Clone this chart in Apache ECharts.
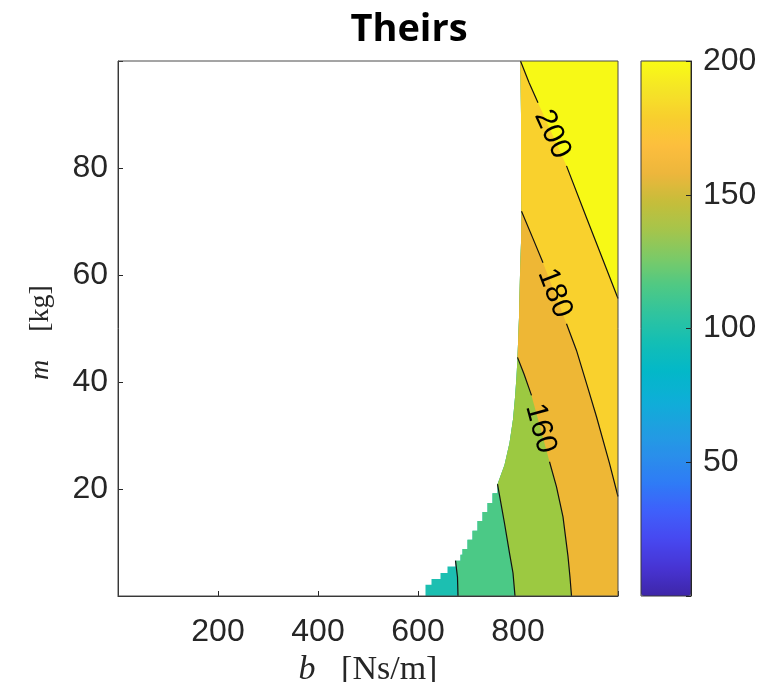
<!DOCTYPE html>
<html><head><meta charset="utf-8">
<script src="https://cdn.jsdelivr.net/npm/echarts@6.0.0/dist/echarts.min.js"></script>
<style>html,body{margin:0;padding:0;background:#fff}#c{width:763px;height:682px}</style>
</head><body><div id="c"></div>
<script>
// ---- data ----
const bRange = [0, 1000];          // b [Ns/m]
const mRange = [0, 100];           // m [kg]
const bTicks = [200, 400, 600, 800];
const mTicks = [20, 40, 60, 80];
const cbarRange = [0, 200];
const cbarTicks = [50, 100, 150, 200];
const levels = [100, 120, 140, 160, 180, 200];
const labelledLevels = [160, 180, 200];

// left edge of the defined (non-NaN) region, bottom -> top (staircase at the bottom)
const boundary = [
  [615, 0], [615, 2.1], [627, 2.1], [627, 3.2], [645, 3.2], [645, 4.3], [659, 4.3], [659, 5.5],
  [675, 5.5], [675, 6.6], [685, 6.6], [685, 7.7], [689, 7.7], [689, 8.8], [699, 8.8], [699, 10.5],
  [709, 10.5], [709, 12.2], [719, 12.2], [719, 14.0], [729, 14.0], [729, 15.7], [739, 15.7], [739, 17.4],
  [749, 17.4], [749, 19.2], [759, 19.2], [759, 20.9],
  [773, 24.5], [783, 28.6], [790, 33], [794, 37.1], [797, 41], [799, 44.6],
  [802, 52], [804, 60], [806, 66], [807, 71.9], [806, 80], [806, 90], [805, 100]
];

// contour lines (null = gap where the label sits)
const contour120 = [[680, 0], [679, 3.5], [675, 6.6]];
const contour140 = [[794, 0], [790, 4.3], [783, 8.0], [773, 13.6], [759, 20.9]];
const contour160 = [[907, 0], [904, 3.5], [900, 7.4], [890, 14.8], [877, 20.4], [863, 25.1], null, [827, 37.5], [812, 41.5], [799, 44.6]];
const contour180 = [[807, 71.9], [830, 66.8], [850, 62.3], null, [897, 50.9], [917, 45.9], [940, 38.8], [957, 33.5], [983, 24.8], [1000, 18.6]];
const contour200 = [[805, 100], [822, 96], [840, 92.2], null, [897, 80.4], [937, 70.7], [963, 64.5], [1000, 55.6]];

// ---- styles ----
const fillColors = ['#1cbfb1', '#4bc986', '#9cc941', '#eeb735', '#f9d12d', '#f7f916'];
const parula = ['#3E26A8', '#4734D3', '#4748F0', '#3F5FFB', '#2F7BF6', '#2A8FEA', '#1EA0E0', '#0DAFD6', '#03B8C8', '#13BEB5', '#2FC49F', '#4EC985', '#7BCA67', '#A5C54B', '#C6BD3A', '#EDB63C', '#FDBE3D', '#F8CF2E', '#F5E526', '#F9FB15'];
const txt = '#262626';
const tickFont = 'Liberation Sans';
const tickSize = 32;
const serif = 'Liberation Serif';

const contourList = [null, contour120, contour140, contour160, contour180, contour200];

function nearestIndex(pt) {
  let best = 0, bd = Infinity;
  boundary.forEach((p, i) => {
    const d = (p[0] - pt[0]) ** 2 + ((p[1] - pt[1]) * 10) ** 2;
    if (d < bd) { bd = d; best = i; }
  });
  return best;
}
// superlevel polygons (painted low -> high)
function regionPolygon(i) {
  const c = contourList[i];
  const xMax = bRange[1], yMax = mRange[1], yMin = mRange[0];
  if (!c) return boundary.concat([[xMax, yMax], [xMax, yMin]]);
  const pts = c.filter(p => p);
  const first = pts[0], last = pts[pts.length - 1];
  if (first[1] === yMin) {
    return pts.concat(boundary.slice(nearestIndex(last) + 1), [[xMax, yMax], [xMax, yMin]]);
  }
  return pts.concat([[xMax, yMax]], boundary.slice(nearestIndex(first) + 1).reverse());
}
const polygons = levels.map((l, i) => regionPolygon(i));

const chart = echarts.init(document.getElementById('c'), null, {renderer: 'canvas'});

const nameStyle = (size, pad) => ({
  color: txt, fontFamily: serif, fontSize: size, padding: pad,
  rich: {it: {fontStyle: 'italic', fontFamily: serif, fontSize: size, color: txt},
         n: {fontFamily: serif, fontSize: size, color: txt}}
});

const option = {
  animation: false,
  backgroundColor: '#fff',
  title: {
    text: 'Theirs', left: 404, top: 6, textAlign: 'center',
    textStyle: {fontFamily: 'Open Sans', fontWeight: 'bold', fontSize: 38, color: '#000'}
  },
  grid: [
    {left: 118, top: 61, width: 500, height: 535, show: true, borderColor: '#4a4a4a', borderWidth: 1, z: 10, outerBoundsMode: 'none', containLabel: false},
    {left: 641, top: 61, width: 50, height: 535, show: true, borderColor: '#3a3a3a', borderWidth: 1, z: 10, outerBoundsMode: 'none', containLabel: false}
  ],
  visualMap: {
    type: 'continuous', min: cbarRange[0], max: cbarRange[1], left: 641, top: 61,
    itemWidth: 50, itemHeight: 535, padding: 0, calculable: false, hoverLink: false,
    text: null, showLabel: false, seriesIndex: [], inRange: {color: parula}
  },
  xAxis: [
    {
      gridIndex: 0, type: 'value', min: bRange[0], max: bRange[1], interval: 200,
      axisLine: {show: true, onZero: false, lineStyle: {color: txt}},
      axisTick: {show: true, inside: true, length: 5, lineStyle: {color: txt}},
      axisLabel: {formatter: v => bTicks.includes(v) ? String(v) : '', fontSize: tickSize, fontFamily: tickFont, color: txt, margin: 20},
      splitLine: {show: false},
      name: '{it|b}   {n|[Ns/m]}', nameLocation: 'middle', nameGap: 38,
      nameTextStyle: nameStyle(34, 0)
    },
    {gridIndex: 1, type: 'value', min: 0, max: 1, show: false}
  ],
  yAxis: [
    {
      gridIndex: 0, type: 'value', min: mRange[0], max: mRange[1], interval: 20,
      axisLine: {show: true, onZero: false, lineStyle: {color: txt}},
      axisTick: {show: true, inside: true, length: 5, lineStyle: {color: txt}},
      axisLabel: {formatter: v => mTicks.includes(v) ? String(v) : '', fontSize: tickSize, fontFamily: tickFont, color: txt, margin: 10},
      splitLine: {show: false},
      name: '{it|m}    {n|[kg]}', nameLocation: 'middle', nameGap: 63,
      nameTextStyle: nameStyle(28, [0, 8, 0, 0])
    },
    {
      gridIndex: 1, type: 'value', min: cbarRange[0], max: cbarRange[1], interval: 50, position: 'right', z: 10,
      axisLine: {show: true, onZero: false, lineStyle: {color: txt}},
      axisTick: {show: true, inside: true, length: 5, lineStyle: {color: txt}},
      axisLabel: {formatter: v => cbarTicks.includes(v) ? String(v) : '', fontSize: tickSize, fontFamily: tickFont, color: txt, margin: 12},
      splitLine: {show: false}
    }
  ],
  series: [
    {
      type: 'custom', name: 'fills', xAxisIndex: 0, yAxisIndex: 0, silent: true, z: 2,
      data: levels.map((l, i) => [i, l]),
      renderItem: (params, api) => {
        const poly = polygons[params.dataIndex];
        return {
          type: 'polygon',
          shape: {points: poly.map(p => api.coord(p))},
          style: {fill: fillColors[params.dataIndex], stroke: null}
        };
      }
    },
    {
      type: 'custom', name: 'lines', xAxisIndex: 0, yAxisIndex: 0, silent: true, z: 3,
      data: levels.map((l, i) => [i, l]).slice(1),
      renderItem: (params, api) => {
        const idx = params.dataIndex + 1;
        const c = contourList[idx];
        const children = [];
        let seg = [];
        let gapPrev = null, gapNext = null;
        const flush = () => {
          if (seg.length > 1) children.push({type: 'polyline', shape: {points: seg}, style: {stroke: '#111', lineWidth: 1.2, fill: null}});
          seg = [];
        };
        for (let k = 0; k < c.length; k++) {
          if (c[k] === null) { gapPrev = c[k - 1]; gapNext = c[k + 1]; flush(); }
          else seg.push(api.coord(c[k]));
        }
        flush();
        if (gapPrev && labelledLevels.includes(levels[idx])) {
          const a = api.coord(gapPrev), b = api.coord(gapNext);
          let dx = b[0] - a[0], dy = b[1] - a[1];
          if (dx < 0) { dx = -dx; dy = -dy; }
          children.push({
            type: 'text', x: (a[0] + b[0]) / 2, y: (a[1] + b[1]) / 2,
            rotation: -Math.atan2(dy, dx),
            style: {text: String(levels[idx]), fontSize: 30, fontFamily: tickFont, fill: '#000', align: 'center', verticalAlign: 'middle'}
          });
        }
        return {type: 'group', children};
      }
    }
  ]
};
chart.setOption(option);
</script></body></html>
